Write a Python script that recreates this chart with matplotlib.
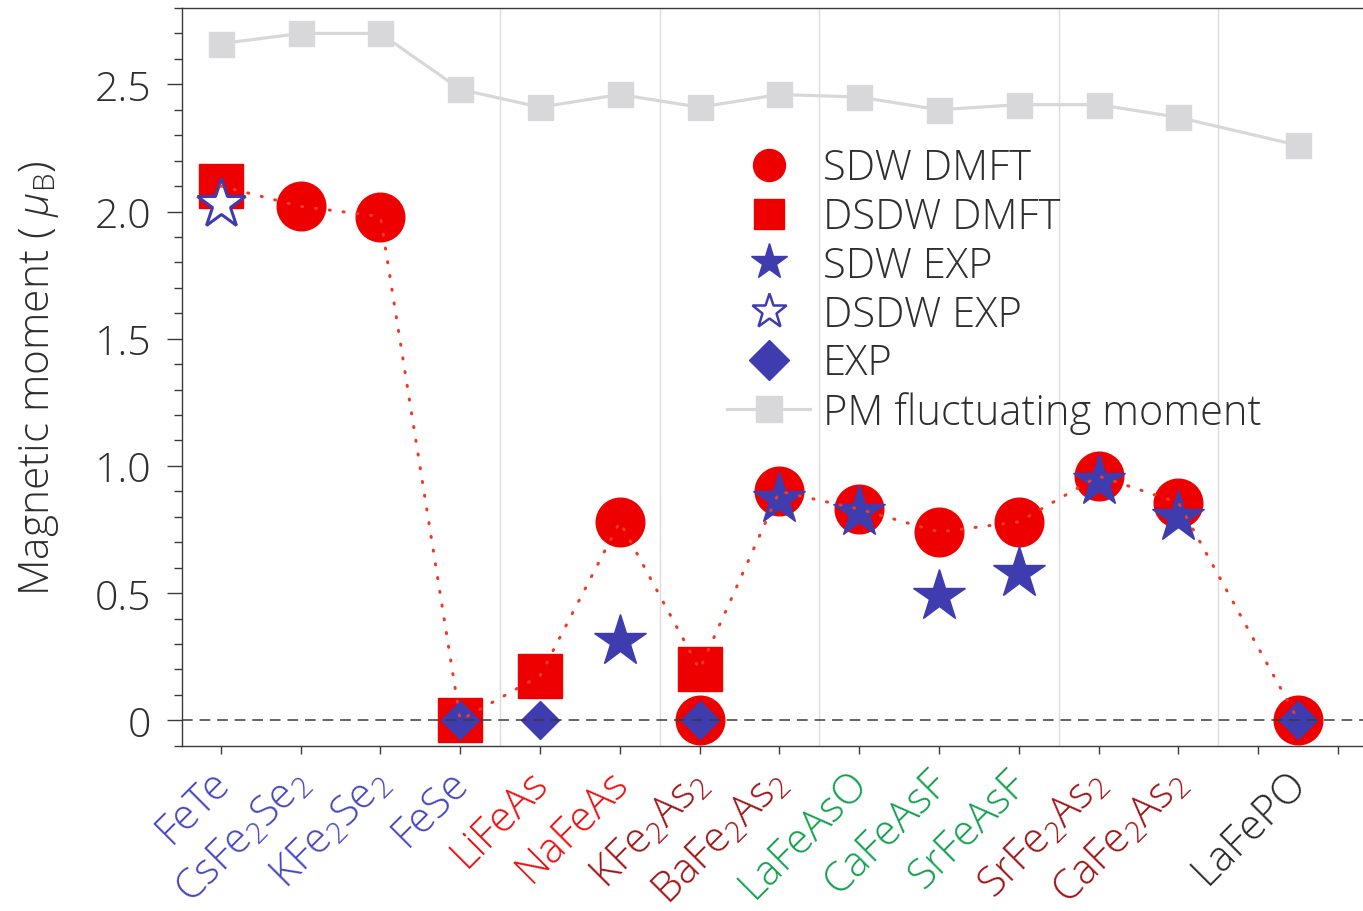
import numpy as np
import matplotlib
matplotlib.use("Agg")
import matplotlib.pyplot as plt
from matplotlib.lines import Line2D
from matplotlib.ticker import MultipleLocator, FuncFormatter, FixedLocator
import matplotlib.transforms as mtransforms

plt.rcParams["font.family"] = ["Open Sans", "DejaVu Sans"]
plt.rcParams["font.weight"] = 300
plt.rcParams["mathtext.fontset"] = "custom"
plt.rcParams["mathtext.rm"] = "Open Sans:light"
plt.rcParams["mathtext.it"] = "Open Sans:italic:light"
plt.rcParams["mathtext.bf"] = "Open Sans:bold"
plt.rcParams["mathtext.sf"] = "Open Sans:light"
plt.rcParams["mathtext.fallback"] = "stixsans"

nan = np.nan

compounds = [
    "FeTe", r"CsFe$\mathregular{_2}$Se$\mathregular{_2}$",
    r"KFe$\mathregular{_2}$Se$\mathregular{_2}$", "FeSe", "LiFeAs", "NaFeAs",
    r"KFe$\mathregular{_2}$As$\mathregular{_2}$",
    r"BaFe$\mathregular{_2}$As$\mathregular{_2}$", "LaFeAsO", "CaFeAsF",
    "SrFeAsF", r"SrFe$\mathregular{_2}$As$\mathregular{_2}$",
    r"CaFe$\mathregular{_2}$As$\mathregular{_2}$", "LaFePO",
]
label_colors = [
    "#4646C3", "#4646C3", "#4646C3", "#4646C3",
    "#EE1010", "#EE1010",
    "#A01414", "#A01414",
    "#12A14E", "#12A14E", "#12A14E",
    "#A01414", "#A01414",
    "#2A2A2A",
]

sdw_dmft = [nan, 2.02, 1.98, nan, nan, 0.78, 0.0, 0.90, 0.83, 0.74, 0.78, 0.96, 0.855, 0.0]
dsdw_dmft = [2.10, nan, nan, 0.0, 0.175, nan, 0.20, nan, nan, nan, nan, nan, nan, nan]
sdw_exp = [nan, nan, nan, nan, nan, 0.31, nan, 0.87, 0.82, 0.49, 0.58, 0.94, 0.80, nan]
dsdw_exp = [2.03, nan, nan, nan, nan, nan, nan, nan, nan, nan, nan, nan, nan, nan]
exp_moment = [nan, nan, nan, 0.0, 0.0, nan, 0.0, nan, nan, nan, nan, nan, nan, 0.0]
pm_moment = [2.66, 2.70, 2.70, 2.48, 2.41, 2.46, 2.41, 2.46, 2.45, 2.40, 2.42, 2.42, 2.37, 2.26]

RED = "#EE0000"
BLUE = "#3F3CB0"
GRAY = "#D8D8DA"
DOT_RED = "#F23A22"
TXT = "#2E2E2E"

# last compound sits between two tick positions
n = len(compounds)
x = np.r_[np.arange(n - 1), n - 0.5]
group_edges = [3.5, 5.5, 7.5, 10.5, 12.5]

# DMFT trend: the DSDW value where it exists, otherwise SDW
trend = np.where(np.isnan(dsdw_dmft), sdw_dmft, dsdw_dmft)

W, H = 1363, 912
fig = plt.figure(figsize=(W / 100, H / 100), dpi=100)
ax = fig.add_axes([181.7 / W, (H - 746.7) / H, (1378 - 181.7) / W, (746.7 - 9) / H])

for xe in group_edges:
    ax.axvline(xe, color="#DCDCDC", lw=1.0, zorder=0)

ax.plot(x, pm_moment, color=GRAY, lw=2.3, marker="s", ms=18, mec=GRAY, mfc=GRAY, zorder=1)

ax.plot(x, sdw_dmft, ls="none", marker="o", ms=35, mfc=RED, mec=RED, zorder=3)
ax.plot(x, dsdw_dmft, ls="none", marker="s", ms=31, mfc=RED, mec=RED, zorder=3)
ax.plot(x, sdw_exp, ls="none", marker="*", ms=39, mfc=BLUE, mec=BLUE, mew=1.0, zorder=4)
ax.plot(x, dsdw_exp, ls="none", marker="*", ms=37, mfc="white", mec=BLUE, mew=2.2, zorder=4)
ax.plot(x, exp_moment, ls="none", marker="D", ms=19.5, mfc=BLUE, mec=BLUE, zorder=4)

ax.plot(x, trend, color=DOT_RED, lw=2.2, ls=(0, (0.35, 4.2)),
        dash_capstyle="round", zorder=5)
ax.axhline(0, color="#3A3A3A", lw=1.1, ls=(0, (7, 4.5)), zorder=6)

ax.set_xlim(-0.49, 14.5)
ax.set_ylim(-0.1, 2.8)

for side in ("left", "bottom", "top"):
    ax.spines[side].set_color("#3A3A3A")
    ax.spines[side].set_linewidth(1.0)
ax.spines["right"].set_visible(False)

ax.yaxis.set_major_locator(MultipleLocator(0.5))
ax.yaxis.set_minor_locator(MultipleLocator(0.1))
ax.yaxis.set_major_formatter(FuncFormatter(lambda v, p: "0" if abs(v) < 1e-9 else f"{v:.1f}"))
ax.tick_params(axis="y", which="major", direction="out", length=11, width=1.0,
               color="#3A3A3A", labelsize=29.5, labelcolor=TXT, pad=11)
ax.tick_params(axis="y", which="minor", direction="out", length=6, width=1.0, color="#3A3A3A")

# tick marks at every slot, labels at compound positions
ax.xaxis.remove_overlapping_locs = False
ax.xaxis.set_minor_locator(FixedLocator(np.arange(n + 1)))
ax.tick_params(axis="x", which="minor", direction="out", length=6, width=1.0, color="#3A3A3A")
ax.set_xticks(x)
ax.set_xticklabels(compounds, rotation=45, ha="right", va="top", rotation_mode="anchor",
                   fontweight=300)
ax.tick_params(axis="x", which="major", length=0, labelsize=30, pad=11)
shift = mtransforms.ScaledTranslation(-13 / 100, 0, fig.dpi_scale_trans)
for lab, c in zip(ax.get_xticklabels(), label_colors):
    lab.set_color(c)
    lab.set_transform(lab.get_transform() + shift)
for lab in ax.get_yticklabels():
    lab.set_fontweight(300)

ax.set_ylabel(r"Magnetic moment ( $\mathit{\mu}_{\mathregular{B}}$)", fontsize=30.5,
              color=TXT, labelpad=24, fontweight=300)

handles = [
    Line2D([], [], ls="none", marker="o", ms=23, mfc=RED, mec=RED),
    Line2D([], [], ls="none", marker="s", ms=22, mfc=RED, mec=RED),
    Line2D([], [], ls="none", marker="*", ms=27, mfc=BLUE, mec=BLUE),
    Line2D([], [], ls="none", marker="*", ms=26, mfc="white", mec=BLUE, mew=1.8),
    Line2D([], [], ls="none", marker="D", ms=20, mfc=BLUE, mec=BLUE),
    Line2D([], [], color=GRAY, lw=2.3, marker="s", ms=19, mfc=GRAY, mec=GRAY),
]
names = ["SDW DMFT", "DSDW DMFT", "SDW EXP", "DSDW EXP", "EXP", "PM fluctuating moment"]
leg = ax.legend(handles, names, loc="upper left", bbox_to_anchor=(727 / W, 1 - 148 / H),
                bbox_transform=fig.transFigure, frameon=False, fontsize=30,
                handlelength=2.0, handletextpad=0.3, labelspacing=0.15,
                borderpad=0, borderaxespad=0, labelcolor=TXT)
for t in leg.get_texts():
    t.set_fontweight(300)

fig.savefig("out.png", dpi=100)
